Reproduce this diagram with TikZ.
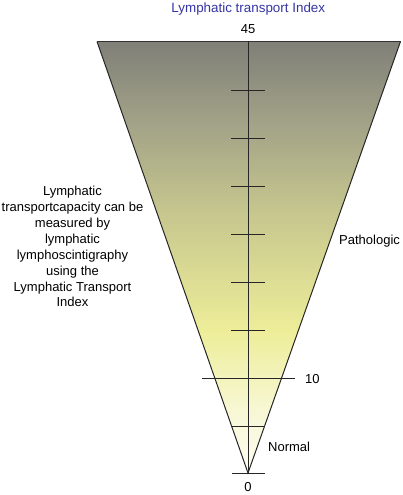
\documentclass[tikz,border=0pt]{standalone}
\usepackage{fontspec}
\setmainfont{Liberation Sans}
\usetikzlibrary{calc}
\definecolor{titleblue}{RGB}{52,52,165}
\pgfdeclareverticalshading{funnel}{100bp}{rgb(0bp)=(0.99,0.99,0.95); rgb(25bp)=(0.99,0.99,0.95); rgb(32bp)=(0.97,0.97,0.84); rgb(41.5bp)=(0.93,0.93,0.60); rgb(55bp)=(0.78,0.78,0.56); rgb(66bp)=(0.63,0.63,0.53); rgb(75bp)=(0.50,0.50,0.47); rgb(100bp)=(0.50,0.50,0.47)}
\begin{document}
\begin{tikzpicture}[x=1pt,y=-1pt,
  every node/.style={inner sep=0pt},
  lbl/.style={font=\fontsize{13}{15.9}\selectfont},
  tickline/.style={line width=0.9pt, draw=black!85},
  edge/.style={line width=1pt, draw=black!85}]
\useasboundingbox (0,0) rectangle (402,495);
\coordinate (TL) at (97,41.5);
\coordinate (TR) at (400.5,41.5);
\coordinate (A) at (248,473);
\coordinate (AxTop) at (248,41.5);
\shade[shading=funnel] (TL) -- (TR) -- (A) -- cycle;
\draw[edge] (TL) -- (A) -- (TR);
\draw[line width=1.4pt, draw=black!80] (TL) -- (TR);
\draw[tickline] (AxTop) -- (A);
\foreach \yy in {90,138,186,234,282,330}
  \draw[tickline] (231,\yy) -- (265,\yy);
\coordinate (TenL) at (202,378);
\coordinate (TenR) at (295,378);
\draw[tickline] (TenL) -- (TenR);
\coordinate (NL) at ($(A)!0.107!(TL)$);
\coordinate (NR) at ($(A)!0.107!(TR)$);
\draw[tickline] (NL) -- (NR);
\coordinate (BL) at (232,473);
\coordinate (BR) at (265,473);
\draw[tickline] (BL) -- (BR);
\node[font=\fontsize{13.4}{16}\selectfont, anchor=base, text=titleblue] (title) at (248.3,12.3) {Lymphatic transport Index};
\node[lbl, anchor=base] (n45) at (248,34) {45};
\node[lbl, anchor=base west] (n10) at (305,383) {10};
\node[lbl, anchor=base west] (normal) at (268,451.7) {Normal};
\node[lbl, anchor=base] (n0) at (248,491.7) {0};
\node[lbl, anchor=base west] (patho) at (339,244.3) {Pathologic};
\node[lbl, align=center, anchor=north] (desc) at (72.5,186) {Lymphatic\\transportcapacity can be\\measured by\\lymphatic\\lymphoscintigraphy\\using the\\Lymphatic Transport\\Index};
\end{tikzpicture}
\end{document}
